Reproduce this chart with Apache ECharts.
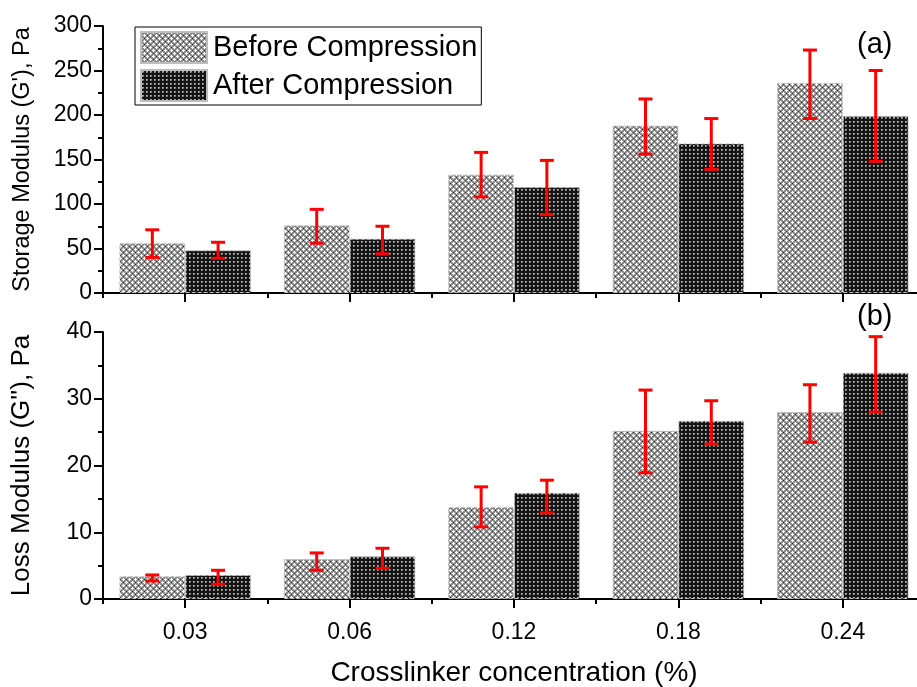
<!DOCTYPE html>
<html>
<head>
<meta charset="utf-8">
<script src="https://cdn.jsdelivr.net/npm/echarts@6/dist/echarts.min.js"></script>
<style>
  html, body { margin: 0; padding: 0; background: #fff; }
  #chart { width: 917px; height: 687px; }
</style>
</head>
<body>
<div id="chart"></div>
<script>
const categories = ['0.03', '0.06', '0.12', '0.18', '0.24'];

// storage modulus G' (Pa)
const storageBefore = [56, 76, 133, 188, 236];
const storageBeforeLow = [40, 56, 108, 156, 196];
const storageBeforeHigh = [71, 94, 158, 218, 273];
const storageAfter = [48, 61, 119, 168, 199];
const storageAfterLow = [39, 44, 88, 139, 148];
const storageAfterHigh = [57, 75, 149, 196, 250];

// loss modulus G'' (Pa)
const lossBefore = [3.4, 6.0, 13.8, 25.2, 28.0];
const lossBeforeLow = [2.7, 4.3, 10.8, 18.9, 23.5];
const lossBeforeHigh = [3.6, 6.9, 16.8, 31.3, 32.1];
const lossAfter = [3.6, 6.4, 15.9, 26.7, 33.9];
const lossAfterLow = [2.2, 4.6, 12.9, 23.2, 28.0];
const lossAfterHigh = [4.3, 7.6, 17.8, 29.7, 39.3];

const font = '"Liberation Sans", Arial, sans-serif';

// hatch fills
function makeTile(size, bg, dots) {
  const c = document.createElement('canvas');
  c.width = size; c.height = size;
  const ctx = c.getContext('2d');
  ctx.fillStyle = bg;
  ctx.fillRect(0, 0, size, size);
  dots.forEach(([x, y, col]) => {
    ctx.fillStyle = col;
    ctx.fillRect(x, y, 1, 1);
  });
  return c;
}
const W = '#ffffff', D = '#2a2a2a';
const beforeTile = makeTile(6, '#8c8c8c', [
  [0, 0, W], [1, 0, W], [5, 0, W], [0, 1, W], [0, 5, W],
  [3, 3, W], [2, 3, W], [4, 3, W], [3, 2, W], [3, 4, W],
  [3, 0, D], [0, 3, D]
]);
const afterTile = makeTile(4, '#141414', [
  [1, 1, '#b4b4b4'], [2, 1, '#9a9a9a'], [1, 2, '#9a9a9a'], [2, 2, '#5a5a5a']
]);

const beforeFill = { image: beforeTile, repeat: 'repeat' };
const afterFill = { image: afterTile, repeat: 'repeat' };

const chart = echarts.init(document.getElementById('chart'));

function errorSeries(name, xIdx, yIdx, low, high, side) {
  return {
    type: 'custom',
    name: name,
    xAxisIndex: xIdx,
    yAxisIndex: yIdx,
    z: 10,
    silent: true,
    data: categories.map((c, i) => [i, low[i], high[i]]),
    renderItem: (params, api) => {
      const catW = api.size([1, 0])[0];
      const off = side * catW * 0.2;
      const lo = api.coord([api.value(0), api.value(1)]);
      const hi = api.coord([api.value(0), api.value(2)]);
      const x = lo[0] + off;
      const cap = 7;
      const style = { stroke: '#ff0000', lineWidth: 3 };
      return {
        type: 'group',
        children: [
          { type: 'line', shape: { x1: x, y1: lo[1], x2: x, y2: hi[1] }, style },
          { type: 'line', shape: { x1: x - cap, y1: lo[1], x2: x + cap, y2: lo[1] }, style },
          { type: 'line', shape: { x1: x - cap, y1: hi[1], x2: x + cap, y2: hi[1] }, style }
        ]
      };
    }
  };
}

function barSeries(name, xIdx, yIdx, data, fill) {
  return {
    type: 'bar',
    name: name,
    xAxisIndex: xIdx,
    yAxisIndex: yIdx,
    data: data,
    barGap: '0%',
    barCategoryGap: '20%',
    itemStyle: { color: fill, borderColor: '#bdbdbd', borderWidth: 1, borderType: 'dashed' },
    emphasis: { disabled: true }
  };
}

const axisLine = { show: true, lineStyle: { color: '#000', width: 2 } };

function catAxes(gridIndex, showLabels) {
  return [
    {
      type: 'category',
      gridIndex: gridIndex,
      data: categories,
      axisLine: axisLine,
      axisTick: { show: true, alignWithLabel: true, length: 9, lineStyle: { color: '#000', width: 2 } },
      axisLabel: { show: showLabels, color: '#000', fontSize: 23, fontFamily: font, margin: 22 },
      name: showLabels ? 'Crosslinker concentration (%)' : '',
      nameLocation: 'middle',
      nameGap: 60,
      nameTextStyle: { color: '#000', fontSize: 28, fontFamily: font }
    },
    {
      type: 'category',
      gridIndex: gridIndex,
      data: categories,
      position: 'bottom',
      axisLine: { show: false },
      axisTick: { show: true, length: 5, lineStyle: { color: '#000', width: 2 } },
      axisLabel: { show: false }
    }
  ];
}

function valAxis(gridIndex, max, interval, name, nameSize) {
  return {
    type: 'value',
    gridIndex: gridIndex,
    min: 0,
    max: max,
    interval: interval,
    name: name,
    nameLocation: 'middle',
    nameGap: 68,
    nameTextStyle: { color: '#000', fontSize: nameSize, fontFamily: font },
    axisLine: axisLine,
    axisTick: { show: true, length: 9, lineStyle: { color: '#000', width: 2 } },
    minorTick: { show: true, splitNumber: 2, length: 5, lineStyle: { color: '#000', width: 2 } },
    axisLabel: { color: '#000', fontSize: 23, fontFamily: font, margin: 11 },
    splitLine: { show: false }
  };
}

chart.setOption({
  animation: false,
  backgroundColor: '#fff',
  grid: [
    { left: 103, top: 26, width: 822, height: 267, outerBoundsMode: 'none' },
    { left: 103, top: 332, width: 822, height: 267, outerBoundsMode: 'none' }
  ],
  legend: {
    data: ['Before Compression', 'After Compression'],
    orient: 'vertical',
    left: 135,
    top: 27,
    itemWidth: 66,
    itemHeight: 31,
    itemGap: 5,
    padding: [4, 4, 3, 5],
    borderColor: '#000',
    borderWidth: 1,
    icon: 'rect',
    selectedMode: false,
    textStyle: { color: '#000', fontSize: 29, fontFamily: font, padding: [0, 0, 0, 1] }
  },
  xAxis: [...catAxes(0, false), ...catAxes(1, true)],
  yAxis: [
    valAxis(0, 300, 50, "Storage Modulus (G'), Pa", 23.5),
    valAxis(1, 40, 10, "Loss Modulus (G''), Pa", 26)
  ],
  graphic: [
    { type: 'text', left: 857, top: 30, style: { text: '(a)', fill: '#000', font: '29px ' + font } },
    { type: 'text', left: 857, top: 302, style: { text: '(b)', fill: '#000', font: '29px ' + font } }
  ],
  series: [
    barSeries('Before Compression', 0, 0, storageBefore, beforeFill),
    barSeries('After Compression', 0, 0, storageAfter, afterFill),
    errorSeries('errBefore0', 0, 0, storageBeforeLow, storageBeforeHigh, -1),
    errorSeries('errAfter0', 0, 0, storageAfterLow, storageAfterHigh, 1),
    barSeries('Before Compression', 2, 1, lossBefore, beforeFill),
    barSeries('After Compression', 2, 1, lossAfter, afterFill),
    errorSeries('errBefore1', 2, 1, lossBeforeLow, lossBeforeHigh, -1),
    errorSeries('errAfter1', 2, 1, lossAfterLow, lossAfterHigh, 1)
  ]
});
</script>
</body>
</html>
